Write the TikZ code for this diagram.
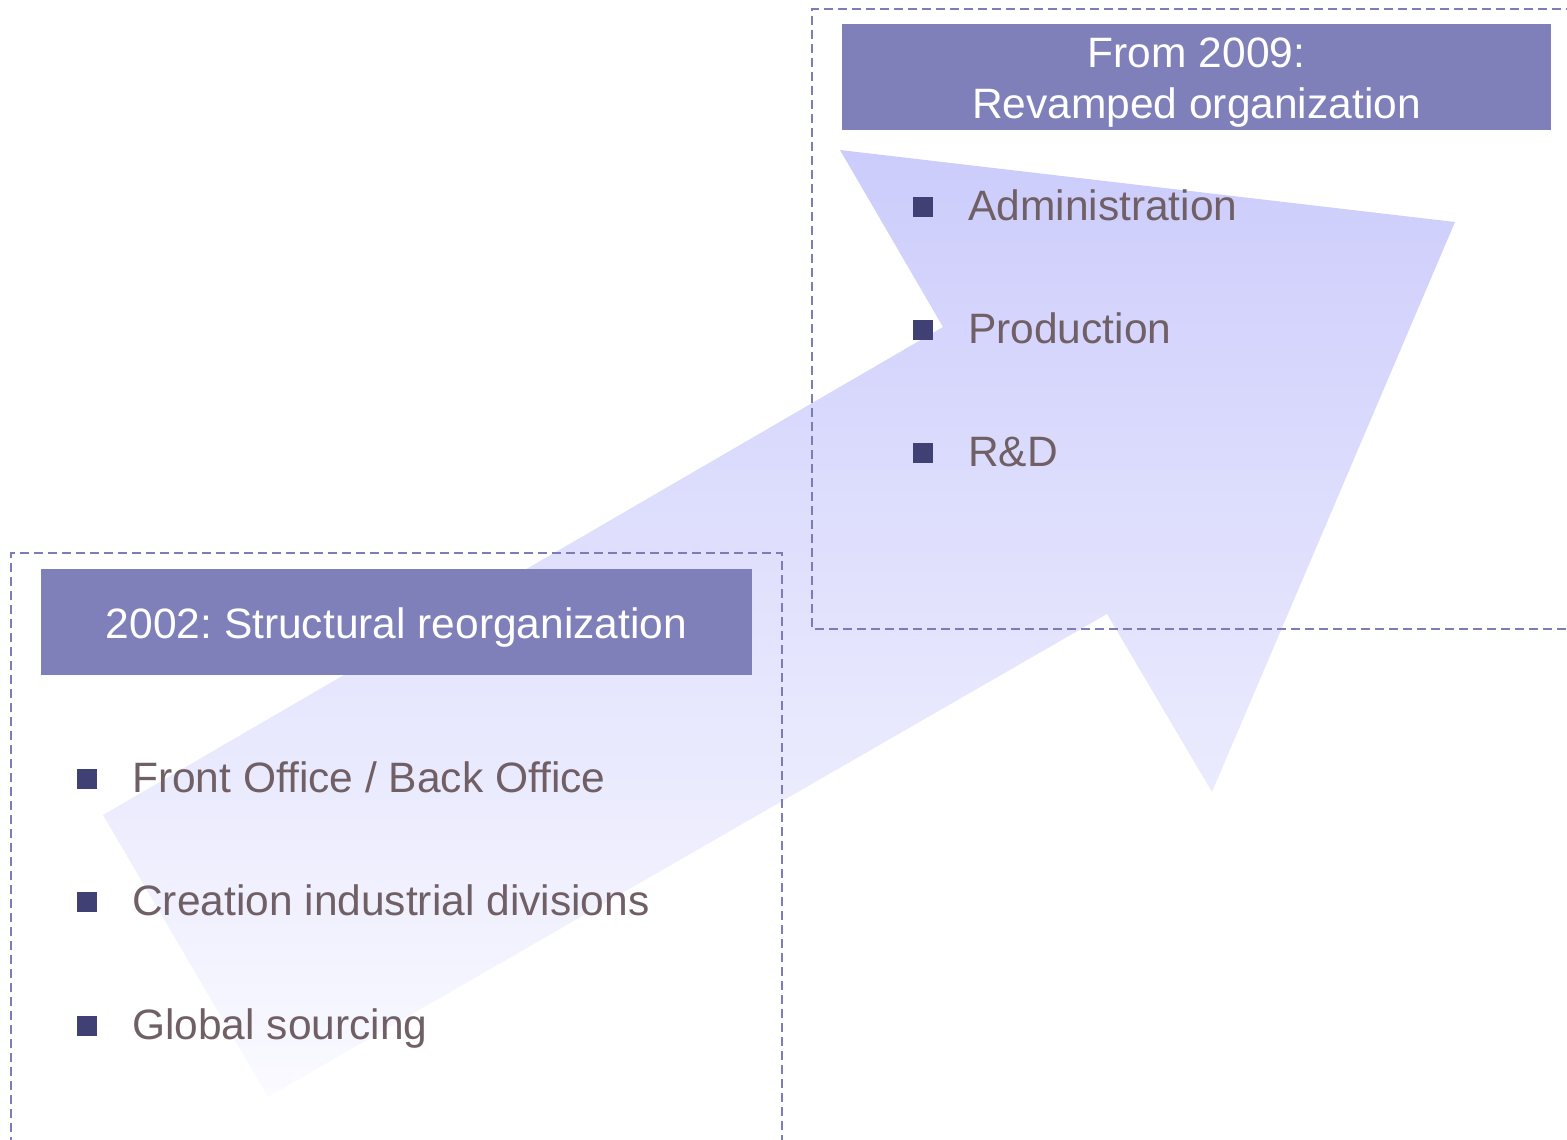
\documentclass[tikz,border=0pt]{standalone}
\usepackage{fontspec}
\setmainfont{Liberation Sans}
\frenchspacing
\begin{document}
\definecolor{headfill}{RGB}{127,128,186}
\definecolor{dashcol}{RGB}{124,124,184}
\definecolor{bulletcol}{RGB}{64,64,116}
\definecolor{itemtext}{RGB}{112,96,101}
\definecolor{arrowtop}{RGB}{204,204,252}
\definecolor{arrowbot}{RGB}{250,250,255}
\begin{tikzpicture}[x=1pt,y=-1pt,
  frame/.style={draw=dashcol,line width=1.4pt,dash pattern=on 9pt off 5pt},
  headbox/.style={fill=headfill,inner sep=0pt},
  headtext/.style={text=white,inner sep=0pt,anchor=base,
    font=\fontsize{42.5}{50}\selectfont},
  bulletbox/.style={fill=bulletcol,minimum size=20pt,inner sep=0pt},
  itemlabel/.style={anchor=base west,text=itemtext,inner sep=0pt,
    font=\fontsize{42.5}{50}\selectfont}]
\clip (0,0) rectangle (1567,1140);
% large shaded arrow running from lower left to upper right
\shade[top color=arrowtop,bottom color=arrowbot]
  (103,815) -- (943,327) -- (840,150) -- (1455,222) -- (1212,792)
  -- (1107,614) -- (268,1097) -- cycle;
% dashed frames
\draw[frame] (11,1160) -- (11,553) -- (782,553) -- (782,1160);
\draw[frame] (1580,629) -- (812,629) -- (812,9) -- (1580,9);
% headers
\node[headbox,minimum width=711pt,minimum height=106pt] (h1) at (396.5,622) {};
\node[headtext] (h1a) at (396.5,638) {2002: Structural reorganization};
\node[headbox,minimum width=709pt,minimum height=106pt] (h2) at (1196.5,77) {};
\node[headtext] (h2a) at (1196.5,68) {From 2009:};
\node[headtext] (h2b) at (1196.5,118) {Revamped organization};
% left list
\node[bulletbox] (b1) at (87,779) {};
\node[bulletbox] (b2) at (87,902) {};
\node[bulletbox] (b3) at (87,1026) {};
\node[itemlabel] (t1) at (132,792) {Front Office / Back Office};
\node[itemlabel] (t2) at (132,915) {Creation industrial divisions};
\node[itemlabel] (t3) at (132,1039) {Global sourcing};
% right list
\node[bulletbox] (b4) at (923,207) {};
\node[bulletbox] (b5) at (923,330) {};
\node[bulletbox] (b6) at (923,453) {};
\node[itemlabel] (t4) at (968,220) {Administration};
\node[itemlabel] (t5) at (968,343) {Production};
\node[itemlabel] (t6) at (968,466) {R\&D};
\end{tikzpicture}
\end{document}
